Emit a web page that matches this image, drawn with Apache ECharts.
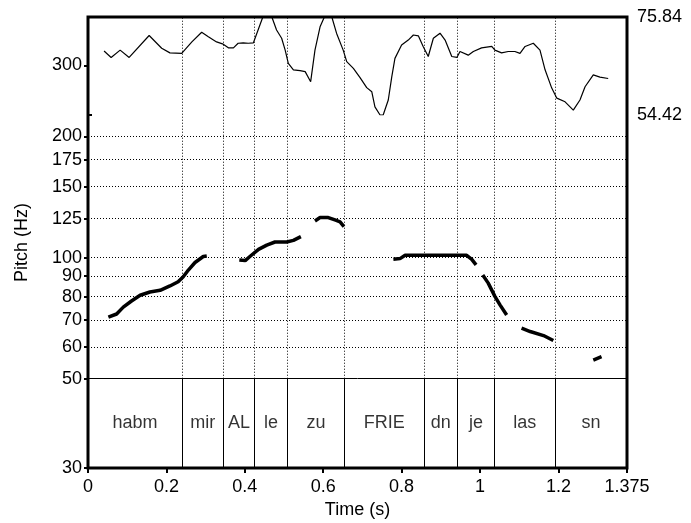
<!DOCTYPE html>
<html>
<head>
<meta charset="utf-8">
<script src="https://cdn.jsdelivr.net/npm/echarts@6/dist/echarts.min.js"></script>
<style>
html,body{margin:0;padding:0;background:#fff}
#chart{width:691px;height:523px}
</style>
</head>
<body>
<div id="chart"></div>
<script>
// pitch track, time (s) and Hz, null = unvoiced gap
var pitchTime = [0.052,0.073,0.090,0.111,0.133,0.158,0.184,0.209,0.230,0.243,0.256,0.273,0.294,0.303, 0.34,
  0.386,0.401,0.413,0.435,0.456,0.477,0.507,0.524,0.543, 0.56,
  0.579,0.592,0.613,0.630,0.643,0.653, 0.7,
  0.779,0.796,0.809,0.864,0.906,0.949,0.966,0.979,0.990, 0.998,
  1.007,1.021,1.038,1.051,1.068, 1.09,
  1.106,1.128,1.162,1.187, 1.24,
  1.289,1.310];
var pitchHz = [71.1,72.4,75.3,78.0,80.6,82.1,82.9,85.0,87.1,89.6,93.1,97.2,100.6,100.9, null,
  98.6,98.3,100.6,104.8,107.4,109.3,109.3,110.3,112.7, null,
  123.3,125.7,125.7,124.0,122.7,119.4, null,
  99.0,99.4,101.3,101.3,101.3,101.3,101.3,99.0,95.9, null,
  90.5,86.4,80.1,76.3,72.0, null,
  66.8,65.5,64.0,62.2, null,
  55.6,56.7];

// intensity curve, time (s) and dB
var intTime = [0.041,0.059,0.082,0.105,0.156,0.188,0.209,0.239,0.265,0.290,0.307,0.328,0.345,0.358,0.371,0.383,0.396,0.409,0.422,0.446,
  0.469,0.481,0.494,0.503,0.511,0.524,0.541,0.554,0.568,0.579,0.592,0.603,0.622,0.634,0.651,0.660,0.677,0.694,0.711,0.724,
  0.732,0.745,0.753,0.766,0.775,0.783,0.800,0.817,0.830,0.843,0.855,0.868,0.881,0.898,0.911,0.928,0.941,0.949,0.970,0.983,
  1.004,1.030,1.038,1.055,1.072,1.089,1.102,1.115,1.136,1.153,1.166,1.183,1.196,1.217,1.238,1.255,1.268,1.289,1.306,1.327];
var intDb = [68.4,67.0,68.6,67.0,71.8,69.0,68.0,67.9,70.4,72.5,71.5,70.4,69.9,69.1,69.1,70.1,70.2,70.1,70.2,75.84,
  75.84,73.0,71.2,68.6,65.7,64.3,64.1,63.9,61.7,68.6,73.7,75.84,75.84,72.3,68.6,66.1,64.6,62.6,60.4,59.5,
  56.2,54.42,54.42,57.7,62.8,66.8,69.7,70.8,71.9,71.7,69.4,67.2,71.2,72.3,70.8,67.2,67.0,68.3,67.5,68.3,
  69.1,69.4,68.6,68.0,68.3,68.3,67.9,69.4,70.1,68.6,64.3,60.3,58.1,57.3,55.5,57.7,60.6,63.2,62.7,62.4];

// text tier
var tierBounds = [0, 0.240, 0.345, 0.425, 0.509, 0.654, 0.858, 0.942, 1.037, 1.191, 1.375];
var tierText = ["habm", "mir", "AL", "le", "zu", "FRIE", "dn", "je", "las", "sn"];

// axes
var pitchTicks = [30, 50, 60, 70, 80, 90, 100, 125, 150, 175, 200, 300];
var pitchGridVals = [60, 70, 80, 90, 100, 125, 150, 175, 200];
var timeTicks = [0, 0.2, 0.4, 0.6, 0.8, 1, 1.2, 1.375];
var intTicks = [54.42, 75.84];
var pitchMin = 30, pitchMax = 396, tierTop = 50;

var font = "Liberation Sans";
var txt = {color: "#000", fontFamily: font, fontSize: 18};
var dotted = {color: "#000", width: 1, type: [1, 2]};
var solid = {color: "#000", width: 1, type: "solid"};

var lines = [];
pitchGridVals.forEach(function (v) { lines.push({yAxis: v, lineStyle: dotted}); });
lines.push({yAxis: tierTop, lineStyle: solid});
tierBounds.slice(1, -1).forEach(function (b) {
  lines.push([{coord: [b, tierTop], lineStyle: dotted}, {coord: [b, pitchMax]}]);
  lines.push([{coord: [b, pitchMin], lineStyle: solid}, {coord: [b, tierTop]}]);
});

var pitchData = pitchTime.map(function (t, i) { return [t, pitchHz[i]]; });
var intData = intTime.map(function (t, i) { return [t, intDb[i]]; });
var tierData = tierText.map(function (s, i) {
  return {name: s, value: [(tierBounds[i] + tierBounds[i + 1]) / 2, Math.sqrt(pitchMin * tierTop)]};
});

var myChart = echarts.init(document.getElementById("chart"));
myChart.setOption({
  animation: false,
  backgroundColor: "#fff",
  grid: [
    {left: 88, right: 64, top: 17, bottom: 55, show: true, borderColor: "#000", borderWidth: 3,
     backgroundColor: "#fff", outerBoundsMode: "none"},
    {left: 88, right: 64, top: 17, height: 98, outerBoundsMode: "none"}
  ],
  xAxis: [
    {
      gridIndex: 0, type: "value", min: 0, max: 1.375,
      axisLine: {show: false},
      axisTick: {show: true, customValues: timeTicks, length: 5, lineStyle: {color: "#000", width: 2}},
      axisLabel: Object.assign({customValues: timeTicks, margin: 10}, txt),
      splitLine: {show: false},
      name: "Time (s)", nameLocation: "middle", nameGap: 33,
      nameTextStyle: txt
    },
    {gridIndex: 1, type: "value", min: 0, max: 1.375, show: false}
  ],
  yAxis: [
    {
      gridIndex: 0, type: "log", logBase: 10, min: pitchMin, max: pitchMax,
      axisLine: {show: false},
      axisTick: {show: true, customValues: pitchTicks, length: 4, lineStyle: {color: "#000", width: 2}},
      axisLabel: Object.assign({customValues: pitchTicks, margin: 6}, txt),
      splitLine: {show: false},
      name: "Pitch (Hz)", nameLocation: "middle", nameRotate: 90, nameGap: 57,
      nameTextStyle: txt
    },
    {
      gridIndex: 1, type: "value", min: 54.42, max: 75.84, position: "right",
      axisLine: {show: false},
      axisTick: {show: true, customValues: intTicks, length: 4, lineStyle: {color: "#000", width: 2}},
      axisLabel: Object.assign({customValues: intTicks, margin: 10, showMinLabel: true, showMaxLabel: true,
        formatter: function (v) { return v.toFixed(2); }}, txt),
      splitLine: {show: false}
    }
  ],
  series: [
    {
      name: "pitch", type: "line", xAxisIndex: 0, yAxisIndex: 0,
      data: pitchData, showSymbol: false, connectNulls: false,
      lineStyle: {color: "#000", width: 3.5}, z: 4,
      markLine: {silent: true, symbol: ["none", "none"], label: {show: false}, data: lines, z: 2}
    },
    {
      name: "tier", type: "scatter", xAxisIndex: 0, yAxisIndex: 0,
      data: tierData, symbolSize: 0, silent: true,
      label: Object.assign({show: true, position: "inside", formatter: "{b}"}, txt)
    },
    {
      name: "intensity", type: "line", xAxisIndex: 1, yAxisIndex: 1,
      data: intData, showSymbol: false,
      lineStyle: {color: "#000", width: 1.2}, z: 3
    }
  ]
});
</script>
</body>
</html>
